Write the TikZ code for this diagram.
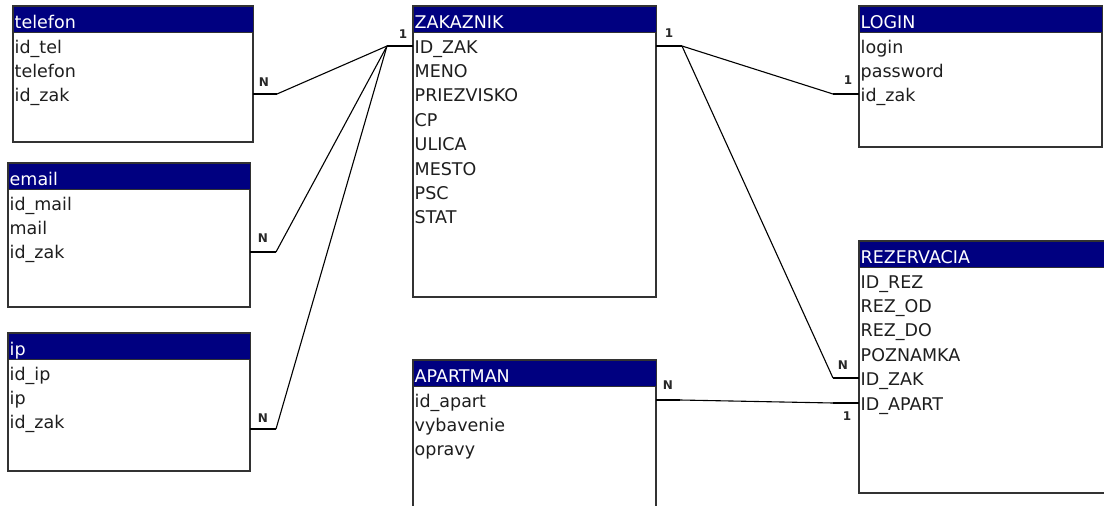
\documentclass[tikz,border=0pt]{standalone}
\usepackage{fontspec}
\setmainfont{DejaVu Sans}
\usetikzlibrary{calc}
\definecolor{hdrblue}{RGB}{0,0,128}
\definecolor{rowink}{RGB}{30,30,30}
\definecolor{edgegray}{RGB}{50,50,50}
\definecolor{lblgray}{RGB}{40,40,40}
\tikzset{
 tblbody/.style={draw=edgegray, line width=1.4pt, fill=white, inner sep=0, outer sep=0},
 tblhead/.style={draw=edgegray, line width=1pt, fill=hdrblue, minimum height=26, inner sep=0, outer sep=0},
 hdrtext/.style={text=white, font=\fontsize{17.5}{19}\selectfont, inner sep=0},
 rowtext/.style={text=rowink, font=\fontsize{17.5}{19}\selectfont, inner sep=0},
 card/.style={text=lblgray, font=\fontsize{12}{13}\selectfont\bfseries, inner sep=0},
 stub/.style={line width=2.5pt, draw=black},
 rel/.style={line width=1.1pt, draw=black},
}
\newcommand{\ertable}[7]{%
  \node[tblbody, minimum width=#4, minimum height=#5, anchor=north west] (#1) at (#2,#3) {};
  \node[tblhead, minimum width=#4, anchor=north west] (#1-h) at (#2,#3) {};
  \node[hdrtext, anchor=base west] (#1-t) at ($(#1-h.south west)+(1.5,-4)$) {#6};
  \foreach \rowname [count=\i] in {#7} {
    \node[rowtext, anchor=base west] (#1-\i) at ($(#1-h.south west)+(1.5,21+24.4*\i-24.4)$) {\rowname};
  }%
}
\begin{document}
\begin{tikzpicture}[x=1pt,y=-1pt]
\clip (0,0) rectangle (1104,506);
\fill[white] (0,0) rectangle (1104,506);

\ertable{tel}{13}{6}{240}{136}{telefon}{id\_tel,telefon,id\_zak}
\ertable{mail}{8}{163}{242}{144}{email}{id\_mail,mail,id\_zak}
\ertable{ip}{8}{333}{242}{138}{ip}{id\_ip,ip,id\_zak}
\ertable{zak}{413}{6}{243}{291}{ZAKAZNIK}{ID\_ZAK,MENO,PRIEZVISKO,CP,ULICA,MESTO,PSC,STAT}
\ertable{apt}{413}{360}{243}{160}{APARTMAN}{id\_apart,vybavenie,opravy}
\ertable{login}{859}{6}{243}{141}{LOGIN}{login,password,id\_zak}
\ertable{rez}{859}{241}{260}{252}{REZERVACIA}{ID\_REZ,REZ\_OD,REZ\_DO,POZNAMKA,ID\_ZAK,ID\_APART}

% connector points
\coordinate (telA) at (253,94);  \coordinate (telB) at (277,94);
\coordinate (mailA) at (250,252); \coordinate (mailB) at (276,252);
\coordinate (ipA) at (250,429);  \coordinate (ipB) at (276,429);
\coordinate (zakLB) at (387,46); \coordinate (zakLA) at (413,46);
\coordinate (zakRA) at (656,46); \coordinate (zakRB) at (682,46);
\coordinate (logB) at (833,94);  \coordinate (logA) at (859,94);
\coordinate (rzB) at (833,378);  \coordinate (rzA) at (859,378);
\coordinate (aptA) at (656,400); \coordinate (aptB) at (680,400);
\coordinate (raB) at (833,403);  \coordinate (raA) at (859,403);

\draw[stub] (telA) -- (telB);
\draw[stub] (mailA) -- (mailB);
\draw[stub] (ipA) -- (ipB);
\draw[stub] (zakLB) -- (zakLA);
\draw[stub] (zakRA) -- (zakRB);
\draw[stub] (logB) -- (logA);
\draw[stub] (rzB) -- (rzA);
\draw[stub] (aptA) -- (aptB);
\draw[stub] (raB) -- (raA);

\draw[rel] (telB) -- (zakLB);
\draw[rel] (mailB) -- (zakLB);
\draw[rel] (ipB) -- (zakLB);
\draw[rel] (zakRB) -- (logB);
\draw[rel] (zakRB) -- (rzB);
\draw[rel] (aptB) -- (raB);

% cardinalities
\node[card] (cTel) at (264,82) {N};
\node[card] (cZ1) at (403,34) {1};
\node[card] (cMail) at (263,238) {N};
\node[card] (cIp) at (263,418) {N};
\node[card] (cZ2) at (669,33) {1};
\node[card] (cLog) at (848,80) {1};
\node[card] (cRz) at (843,365) {N};
\node[card] (cApt) at (668,385) {N};
\node[card] (cRa) at (847,416) {1};
\end{tikzpicture}
\end{document}
